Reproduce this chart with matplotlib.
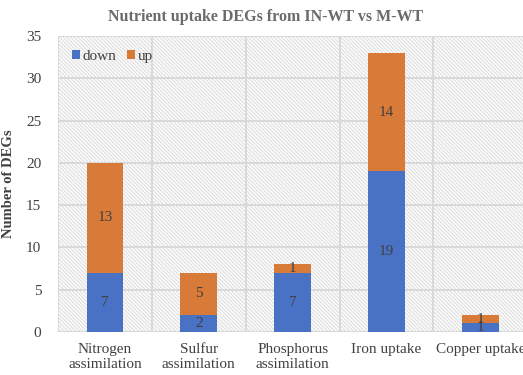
import numpy as np
import matplotlib.pyplot as plt
from matplotlib.patches import Rectangle

plt.rcParams['font.family'] = ['Liberation Serif', 'DejaVu Serif']
plt.rcParams['hatch.linewidth'] = 0.9
plt.rcParams['hatch.color'] = '#E0E0E0'

categories = ['Nitrogen\nassimilation', 'Sulfur\nassimilation', 'Phosphorus\nassimilation',
              'Iron uptake', 'Copper uptake']
down = [7, 2, 7, 19, 1]
up = [13, 5, 1, 14, 1]

c_down = '#4A72C4'
c_up = '#D97B38'
grid_c = '#D9D9D9'
text_c = '#404040'

fig = plt.figure(figsize=(5.23, 3.75), dpi=100)
ax = fig.add_axes([0.111, 0.115, 0.897, 0.789])

x = np.arange(len(categories))
ax.set_xlim(-0.5, len(categories) - 0.5)
ax.set_ylim(0, 35)

# hatched plot background
ax.add_patch(Rectangle((0, 0), 1, 1, transform=ax.transAxes, facecolor='white',
                       edgecolor='#E0E0E0', hatch='\\' * 9, linewidth=0, zorder=0))

for y in range(5, 36, 5):
    ax.axhline(y, color=grid_c, linewidth=1.4, zorder=1)
for xb in np.arange(-0.5, len(categories), 1.0):
    ax.axvline(xb, color=grid_c, linewidth=1.4, zorder=1)
ax.axhline(0, color=grid_c, linewidth=1.6, zorder=1)

ax.bar(x, down, width=0.39, color=c_down, label='down', zorder=3)
ax.bar(x, up, width=0.39, bottom=down, color=c_up, label='up', zorder=3)

for i in range(len(categories)):
    ax.text(x[i], down[i] / 2, str(down[i]), ha='center', va='center',
            fontsize=11, color=text_c, zorder=4)
    ax.text(x[i], down[i] + up[i] / 2, str(up[i]), ha='center', va='center',
            fontsize=11, color=text_c, zorder=4)

for s in ax.spines.values():
    s.set_visible(False)

ax.set_xticks(x)
ax.set_xticklabels(categories, fontsize=11, color=text_c, linespacing=1.2)
ax.set_yticks(range(0, 36, 5))
ax.tick_params(axis='y', labelsize=11, colors=text_c, length=0, pad=12)
ax.tick_params(axis='x', length=0, pad=8)

ax.set_ylabel('Number of DEGs', fontsize=10.5, fontweight='bold', color=text_c, labelpad=8)
fig.text(0.507, 0.955, 'Nutrient uptake DEGs from IN-WT vs M-WT', ha='center', va='center',
         fontsize=11.5, fontweight='bold', color='#6B6B6B')

ax.legend(loc='upper left', bbox_to_anchor=(0.0, 1.0), ncol=2, frameon=False,
          fontsize=11, handlelength=0.55, handleheight=0.55, handletextpad=0.15,
          columnspacing=0.7, labelcolor=text_c)

fig.savefig('out.png', dpi=100)
